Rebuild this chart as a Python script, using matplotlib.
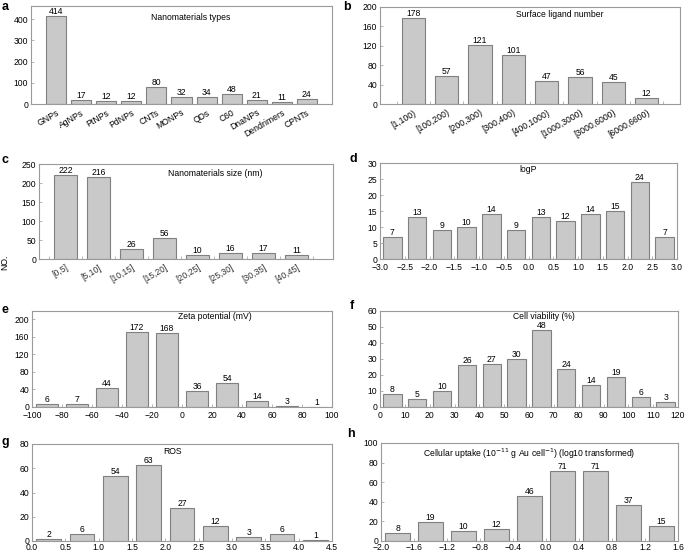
import numpy as np
import matplotlib
matplotlib.use("Agg")
import matplotlib.pyplot as plt

plt.rcParams['font.family'] = ['Liberation Sans', 'DejaVu Sans']
plt.rcParams['axes.unicode_minus'] = True

# a: nanomaterial types
types_cat = ["GNPs", "AgNPs", "PtNPs", "PdNPs", "CNTs", "MONPs", "QDs", "C60",
             "DnaNPs", "Dendrimers", "CPNTs"]
types_val = [414, 17, 12, 12, 80, 32, 34, 48, 21, 11, 24]

# b: surface ligand number
ligand_cat = ["[1,100)", "[100,200)", "[200,300)", "[300,400)", "[400,1000)",
              "[1000,3000)", "[3000,6000)", "[6000,6600)"]
ligand_val = [178, 57, 121, 101, 47, 56, 45, 12]

# c: size
size_cat = ["[0,5]", "[5,10]", "[10,15]", "[15,20]", "[20,25]", "[25,30]",
            "[30,35]", "[40,45]"]
size_val = [222, 216, 26, 56, 10, 16, 17, 11]

# d: logP
logp_edges = [-3.0, -2.5, -2.0, -1.5, -1.0, -0.5, 0.0, 0.5, 1.0, 1.5, 2.0, 2.5, 3.0]
logp_val = [7, 13, 9, 10, 14, 9, 13, 12, 14, 15, 24, 7]

# e: zeta potential
zeta_edges = [-100, -80, -60, -40, -20, 0, 20, 40, 60, 80, 100]
zeta_val = [6, 7, 44, 172, 168, 36, 54, 14, 3, 1]

# f: cell viability
via_edges = [0, 10, 20, 30, 40, 50, 60, 70, 80, 90, 100, 110, 120]
via_val = [8, 5, 10, 26, 27, 30, 48, 24, 14, 19, 6, 3]

# g: ROS
ros_edges = [0.0, 0.5, 1.0, 1.5, 2.0, 2.5, 3.0, 3.5, 4.0, 4.5]
ros_val = [2, 6, 54, 63, 27, 12, 3, 6, 1]

# h: cellular uptake
up_edges = [-2.0, -1.6, -1.2, -0.8, -0.4, 0.0, 0.4, 0.8, 1.2, 1.6]
up_val = [8, 19, 10, 12, 46, 71, 71, 37, 15]

FS = 6.2
FILL = "#c9c9c9"
EDGE = "#808080"
FRAME = "#9a9a9a"

W, H = 685, 553
fig = plt.figure(figsize=(W / 100, H / 100), dpi=100)


def make_axes(l, t, r, b):
    ax = fig.add_axes([l / W, 1 - b / H, (r - l) / W, (b - t) / H])
    for s in ax.spines.values():
        s.set_color(FRAME)
        s.set_linewidth(0.8)
    ax.tick_params(direction="in", length=2.5, width=0.6, color="#aaaaaa",
                   labelsize=FS, pad=2)
    return ax


def labels(ax, xs, vals):
    for x, v in zip(xs, vals):
        ax.text(x, v, str(v), ha="center", va="bottom", fontsize=FS)


def cat_panel(ax, cats, vals, width, xlim, ylim, yticks, title, tx, ty, rot_col="black"):
    x = np.arange(len(cats))
    ax.bar(x, vals, width=width, color=FILL, edgecolor=EDGE, linewidth=0.8)
    labels(ax, x, vals)
    ax.set_xlim(*xlim)
    ax.set_ylim(*ylim)
    ax.set_yticks(yticks)
    ax.set_xticks(x)
    ax.set_xticklabels(cats, rotation=30, ha="right", rotation_mode="anchor",
                       color=rot_col)
    ax.tick_params(axis="x", length=0, pad=3)
    ax.set_xticks(np.arange(len(cats) + 1) - 0.5, minor=True)
    ax.tick_params(axis="x", which="minor", direction="in", length=2.5,
                   color="#aaaaaa")
    ax.text(tx, ty, title, transform=ax.transAxes, ha="center", va="center",
            fontsize=FS)


def hist_panel(ax, edges, vals, frac, ylim, yticks, title, tx, ty, fmt, xpad=3):
    edges = np.array(edges, dtype=float)
    centers = (edges[:-1] + edges[1:]) / 2
    bw = (edges[1] - edges[0]) * frac
    ax.bar(centers, vals, width=bw, color=FILL, edgecolor=EDGE, linewidth=0.8)
    labels(ax, centers, vals)
    ax.set_xlim(edges[0], edges[-1])
    ax.set_ylim(*ylim)
    ax.set_yticks(yticks)
    ax.set_xticks(edges)
    ax.set_xticklabels([fmt.format(e).replace("-", "\u2212") for e in edges])
    ax.tick_params(axis="x", pad=xpad)
    ax.text(tx, ty, title, transform=ax.transAxes, ha="center", va="center",
            fontsize=FS)


# a
ax = make_axes(31, 6, 332, 104)
cat_panel(ax, types_cat, types_val, 0.8, (-1, 11), (0, 462), [0, 100, 200, 300, 400],
          "Nanomaterials types", 0.53, 0.88)
ax.tick_params(axis="x", which="minor", length=0)

# b
ax = make_axes(380, 7, 680, 104)
cat_panel(ax, ligand_cat, ligand_val, 0.7, (-1, 8), (0, 200), [0, 40, 80, 120, 160, 200],
          "Surface ligand number", 0.6, 0.92)

# c
ax = make_axes(39, 164, 333, 259)
cat_panel(ax, size_cat, size_val, 0.7, (-0.8, 8.1), (0, 250), [0, 50, 100, 150, 200, 250],
          "Nanomaterials size (nm)", 0.6, 0.9, rot_col="#333333")

# d
ax = make_axes(380, 163, 677, 259)
hist_panel(ax, logp_edges, logp_val, 0.74, (0, 30), [0, 5, 10, 15, 20, 25, 30],
           "logP", 0.5, 0.93, "{:.1f}")

# e
ax = make_axes(32, 311, 332, 407)
hist_panel(ax, zeta_edges, zeta_val, 0.73, (0, 219), [0, 40, 80, 120, 160, 200],
           "Zeta potential (mV)", 0.61, 0.94, "{:.0f}")

# f
ax = make_axes(380, 311, 678, 407)
hist_panel(ax, via_edges, via_val, 0.74, (0, 60), [0, 10, 20, 30, 40, 50, 60],
           "Cell viability (%)", 0.55, 0.94, "{:.0f}")

# g
ax = make_axes(32, 444, 332, 541)
hist_panel(ax, ros_edges, ros_val, 0.74, (0, 80), [0, 20, 40, 60, 80],
           "ROS", 0.47, 0.92, "{:.1f}", xpad=1.5)

# h
ax = make_axes(381, 443, 678, 541)
hist_panel(ax, up_edges, up_val, 0.74, (0, 100), [0, 20, 40, 60, 80, 100],
           "Cellular uptake (10$^{-11}$ g Au cell$^{-1}$) (log10 transformed)",
           0.5, 0.89, "{:.1f}", xpad=1.5)

# panel letters and shared y label
for letter, px, py in [("a", 2, 7), ("b", 343, 7), ("c", 2, 160), ("d", 349, 159),
                       ("e", 2, 310), ("f", 350, 306), ("g", 2, 442), ("h", 347, 434)]:
    fig.text(px / W, 1 - py / H, letter, fontsize=9, fontweight="bold",
             ha="left", va="center")
fig.text(5 / W, 1 - 262 / H, "NO.", rotation=90, fontsize=FS, ha="center", va="center")

fig.savefig("out.png", dpi=100)
